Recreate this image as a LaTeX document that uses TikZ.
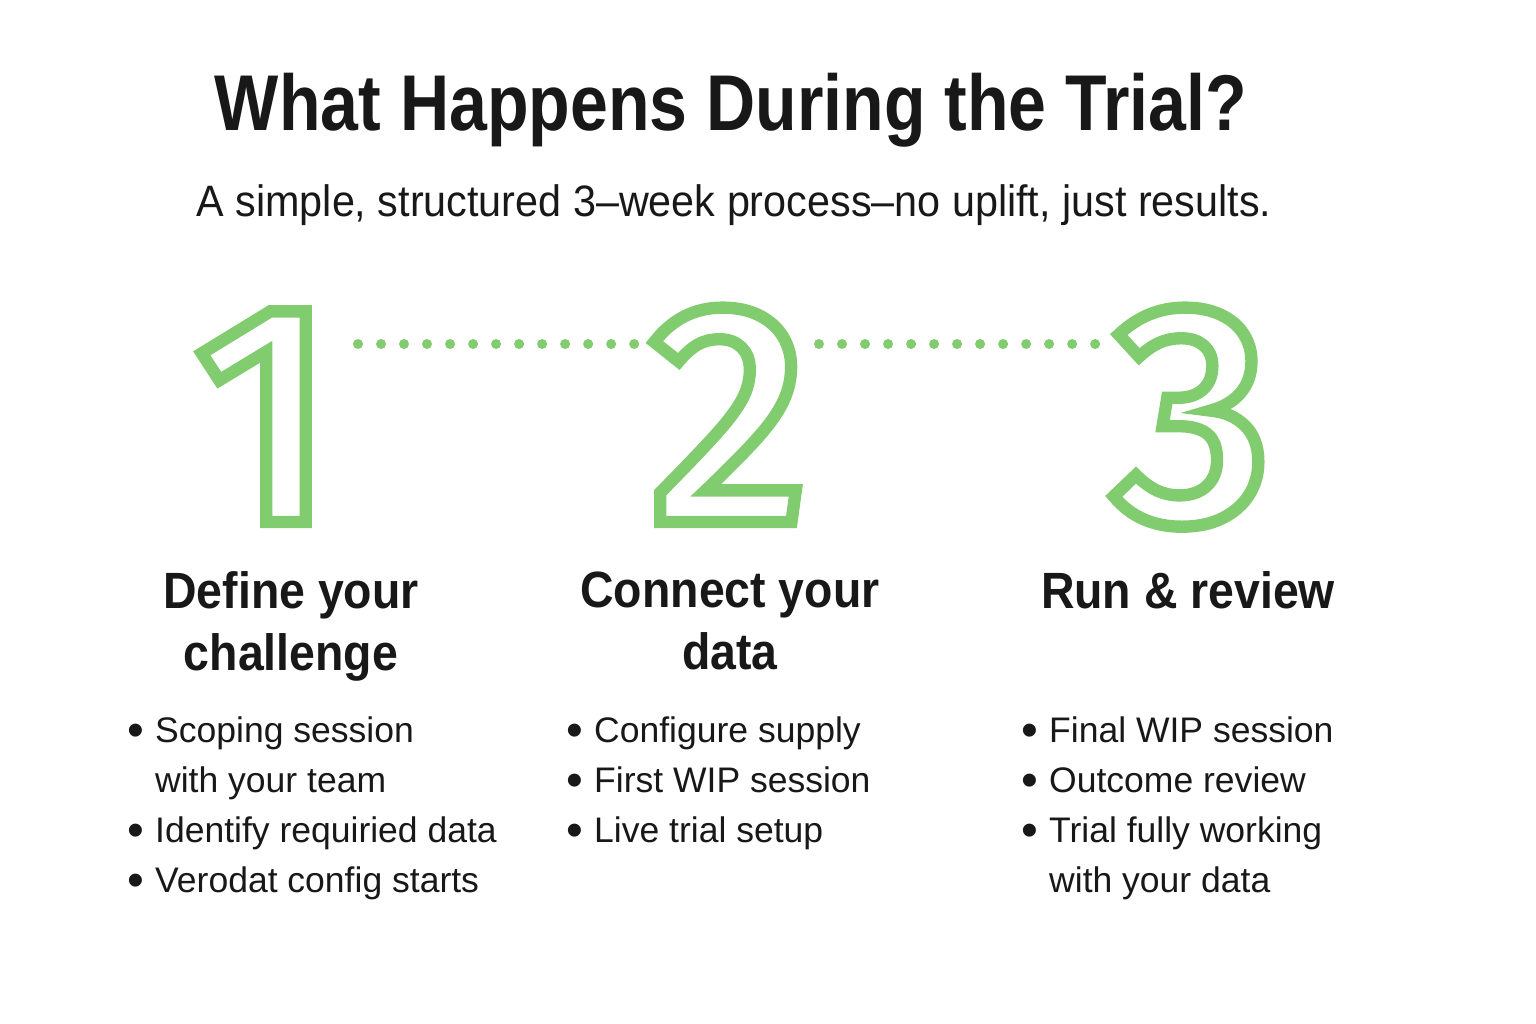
\documentclass[tikz,border=0pt]{standalone}
\usepackage{fontspec}
\setmainfont{Liberation Sans}
\newfontfamily\titrefont{Liberation Sans}[FakeStretch=0.86]
\newfontfamily\etapefont{Liberation Sans}[FakeStretch=0.91]
\newfontfamily\soustitrefont{Liberation Sans}[FakeStretch=0.94]
\newfontfamily\chiffrefont{Fira Sans}[UprightFont={* Medium}]
\usepackage{graphicx}

\definecolor{vert}{RGB}{130,204,112}
\definecolor{encre}{RGB}{24,24,24}

\tikzstyle{titre}=[font=\titrefont\bfseries\fontsize{22.5pt}{27pt}\selectfont, text=encre, inner sep=0pt, anchor=base]
\tikzstyle{soustitre}=[font=\soustitrefont\fontsize{12.5pt}{15pt}\selectfont, text=encre, inner sep=0pt, anchor=base]
\tikzstyle{chiffre}=[font=\chiffrefont\fontsize{89pt}{89pt}\selectfont, text=vert, inner sep=0pt, anchor=base]
\tikzstyle{etape}=[font=\etapefont\bfseries\fontsize{14.5pt}{17.6pt}\selectfont, text=encre, align=center, inner sep=0pt, anchor=north]
\tikzstyle{liste}=[font=\fontsize{10.1pt}{14.2pt}\selectfont, text=encre, align=left, inner sep=0pt, anchor=north west]
\tikzstyle{pointilles}=[draw=vert, line width=0.1cm, line cap=round, dash pattern=on 0pt off 0.23cm]

% chiffre en contour seulement
\newcommand{\creux}[1]{\special{pdf:literal direct 1 Tr 3.5 w 0 j}#1\special{pdf:literal direct 0 Tr}}
\newcommand{\puce}{\makebox[0.275cm][l]{\raisebox{-0.045cm}{\scalebox{1.35}{\textbullet}}}}
\newcommand{\suite}{\hspace*{0.275cm}}

\begin{document}
\begin{tikzpicture}[x=0.01cm, y=-0.01cm]

    \fill[white] (0,0) rectangle (1536,1024);
    \useasboundingbox (0,0) rectangle (1536,1024);

    \node[ titre] (titre) at (731,130) {What Happens During the Trial?};
    \node[ soustitre] (soustitre) at (734,216) {A simple, structured 3–week process–no uplift, just results.};

    % les trois chiffres
    \node[ chiffre] (un) at (265,522) {\creux{1}};
    \node[ chiffre] (deux) at (729,522) {\creux{2}};
    \node[ chiffre] (trois) at (1192,522) {\creux{3}};

    \coordinate (p1) at (358,344);
    \coordinate (q1) at (634.5,344);
    \coordinate (p2) at (819,344);
    \coordinate (q2) at (1095.5,344);
    \draw[ pointilles] (p1) -- (q1);
    \draw[ pointilles] (p2) -- (q2);

    % les etapes
    \node[ etape] (etape1) at (291,571) {Define your\\challenge};
    \node[ etape] (etape2) at (730,571) {Connect your\\data};
    \node[ etape] (etape3) at (1188,571) {Run \& review};

    \node[ liste] (liste1) at (127,716) {\puce Scoping session\\\suite with your team\\\puce Identify requiried data\\\puce Verodat config starts};
    \node[ liste] (liste2) at (566,716) {\puce Configure supply\\\puce First WIP session\\\puce Live trial setup};
    \node[ liste] (liste3) at (1021,716) {\puce Final WIP session\\\puce Outcome review\\\puce Trial fully working\\\suite with your data};

\end{tikzpicture}
\end{document}
